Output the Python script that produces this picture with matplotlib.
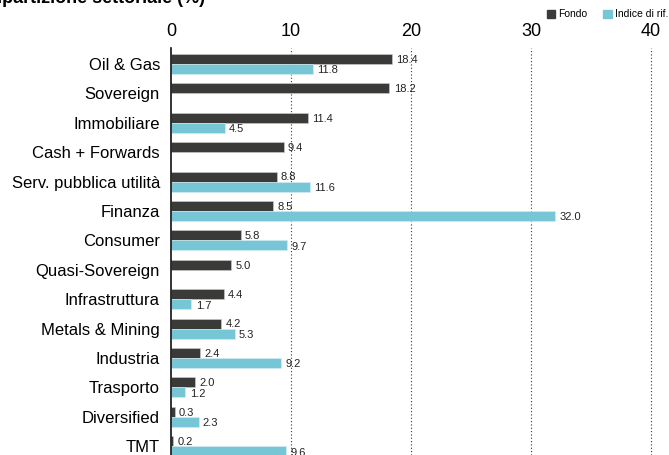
import numpy as np
import matplotlib
matplotlib.use('Agg')
import matplotlib.pyplot as plt
from matplotlib.patches import Patch

categories = ['Oil & Gas', 'Sovereign', 'Immobiliare', 'Cash + Forwards',
              'Serv. pubblica utilità', 'Finanza', 'Consumer', 'Quasi-Sovereign',
              'Infrastruttura', 'Metals & Mining', 'Industria', 'Trasporto',
              'Diversified', 'TMT']
fondo = [18.4, 18.2, 11.4, 9.4, 8.8, 8.5, 5.8, 5.0, 4.4, 4.2, 2.4, 2.0, 0.3, 0.2]
indice = [11.8, None, 4.5, None, 11.6, 32.0, 9.7, None, 1.7, 5.3, 9.2, 1.2, 2.3, 9.6]
xticks = [0, 10, 20, 30, 40]

dark = '#3a3a38'
blue = '#77c6d6'

plt.rcParams['font.family'] = ['Liberation Sans', 'DejaVu Sans']

W, H = 669, 455
fig = plt.figure(figsize=(W/100, H/100), dpi=100)
ax = fig.add_axes([171/W, 0, (W-171)/W, (H-48)/H])

y = np.arange(len(categories))
h = 0.34
for i in range(len(categories)):
    ax.barh(y[i]-h/2, fondo[i], height=h, color=dark, edgecolor='#cfcfcf', linewidth=0.4)
    ax.text(fondo[i]+0.35, y[i]-h/2+0.03, '%.1f' % fondo[i], fontsize=8, va='center', ha='left', color='#222222')
    if indice[i] is not None:
        ax.barh(y[i]+h/2, indice[i], height=h, color=blue, edgecolor='#d8eef3', linewidth=0.4)
        ax.text(indice[i]+0.35, y[i]+h/2+0.05, '%.1f' % indice[i], fontsize=8, va='center', ha='left',
                color='#222222', clip_on=False)

ax.set_ylim(13.3, -0.544)
ax.set_xlim(0, (W-171)/12.0)
ax.set_yticks(y)
ax.set_yticklabels(categories, fontsize=12)
ax.tick_params(axis='y', length=0, pad=8)
ax.xaxis.tick_top()
ax.set_xticks(xticks)
ax.set_xticklabels([str(t) for t in xticks], fontsize=13)
ax.tick_params(axis='x', length=0, pad=6)
for t in xticks[1:]:
    ax.axvline(t, color='#333333', linestyle=(0, (1, 2)), linewidth=0.8, zorder=0)
for s in ['top', 'right', 'bottom']:
    ax.spines[s].set_visible(False)
ax.spines['left'].set_linewidth(1.2)
ax.spines['left'].set_color('#111111')

fig.text(205/W, 1-3/H, 'Ripartizione settoriale (%)', fontsize=13, fontweight='bold',
         ha='right', va='baseline')

handles = [Patch(color=dark, label='Fondo'), Patch(color=blue, label='Indice di rif.')]
fig.legend(handles=handles, loc='upper right', bbox_to_anchor=(1.005, 1-5/H), ncol=2, frameon=False,
           fontsize=7.5, handlelength=0.8, handleheight=0.8, handletextpad=0.3, columnspacing=1.5,
           borderaxespad=0)

fig.savefig('out.png', dpi=100)
